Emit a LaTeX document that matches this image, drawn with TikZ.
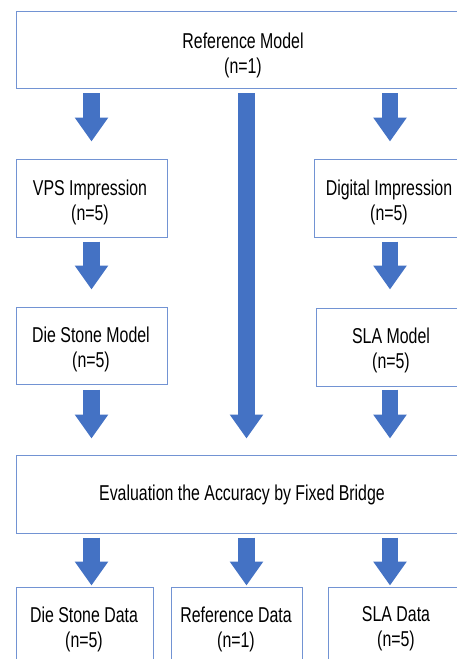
\documentclass[tikz,border=0pt]{standalone}
\usepackage{fontspec}
\setmainfont{Liberation Sans}[FakeStretch=0.74]
\usetikzlibrary{arrows.meta,calc}
\definecolor{arrowblue}{HTML}{4472C4}
\definecolor{boxblue}{RGB}{114,147,211}
\begin{document}
\begin{tikzpicture}[x=1pt,y=-1pt,
  box/.style={draw=boxblue,line width=1pt,fill=white,rectangle,inner sep=0pt},
  txt/.style={align=center,font=\fontsize{21.5}{25}\selectfont,inner sep=0pt},
  barrow/.style={draw=arrowblue,line width=16.5pt,-{Triangle[length=24pt,width=32pt]}}]
\useasboundingbox (0,0) rectangle (457,659);
\clip (0,0) rectangle (457,659);
% boxes
\node[box,minimum width=454pt,minimum height=77pt] (ref) at (243,49.5) {};
\node[box,minimum width=151pt,minimum height=78pt] (vps) at (91.5,198) {};
\node[box,minimum width=152pt,minimum height=78pt] (dig) at (390,198) {};
\node[box,minimum width=151pt,minimum height=77pt] (die) at (91.5,345.5) {};
\node[box,minimum width=150pt,minimum height=78pt] (sla) at (391,347) {};
\node[box,minimum width=452pt,minimum height=78pt] (eval) at (242,494) {};
\node[box,minimum width=137pt,minimum height=78pt] (dsd) at (84.5,626) {};
\node[box,minimum width=131pt,minimum height=78pt] (rfd) at (236.5,626) {};
\node[box,minimum width=136pt,minimum height=78pt] (sld) at (396,626) {};
% texts
\node[txt] (reft) at (243,55) {Reference Model\\(n=1)};
\node[txt] (vpst) at (90,202) {VPS Impression\\(n=5)};
\node[txt] (digt) at (389,202) {Digital Impression\\(n=5)};
\node[txt] (diet) at (91,349) {Die Stone Model\\(n=5)};
\node[txt] (slat) at (391,350) {SLA Model\\(n=5)};
\node[txt] (evalt) at (242,495) {Evaluation the Accuracy by Fixed Bridge};
\node[txt] (dsdt) at (84,629) {Die Stone Data\\(n=5)};
\node[txt] (rfdt) at (236,629) {Reference Data\\(n=1)};
\node[txt] (sldt) at (396,629) {SLA Data\\(n=5)};
% arrows
\coordinate (a1) at ($(ref.south -| vps.north)+(0,4.5)$);
\draw[barrow] (a1) -- ($(vps.north)+(0,-17)$);
\coordinate (a2) at ($(ref.south -| dig.north)+(0,4.5)$);
\draw[barrow] (a2) -- ($(dig.north)+(0,-17)$);
\coordinate (am) at ($(ref.south)+(3.5,4.5)$);
\draw[barrow] (am) -- ($(am |- eval.north)+(0,-16)$);
\draw[barrow] ($(vps.south)+(0,4)$) -- ($(die.north)+(0,-17)$);
\draw[barrow] ($(dig.south)+(0,4)$) -- ($(dig.south |- sla.north)+(0,-18)$);
\draw[barrow] ($(die.south)+(0,5)$) -- ($(die.south |- eval.north)+(0,-16)$);
\draw[barrow] ($(sla.south)+(-1,3)$) -- ($(sla.south |- eval.north)+(-1,-16)$);
\draw[barrow] ($(eval.south -| vps.south)+(0,4)$) -- ($(vps.south |- dsd.north)+(0,-1)$);
\draw[barrow] ($(eval.south -| am)+(0,4)$) -- ($(am |- rfd.north)+(0,-1)$);
\draw[barrow] ($(eval.south -| dig.south)+(0,4)$) -- ($(dig.south |- sld.north)+(0,-1)$);
\end{tikzpicture}
\end{document}
